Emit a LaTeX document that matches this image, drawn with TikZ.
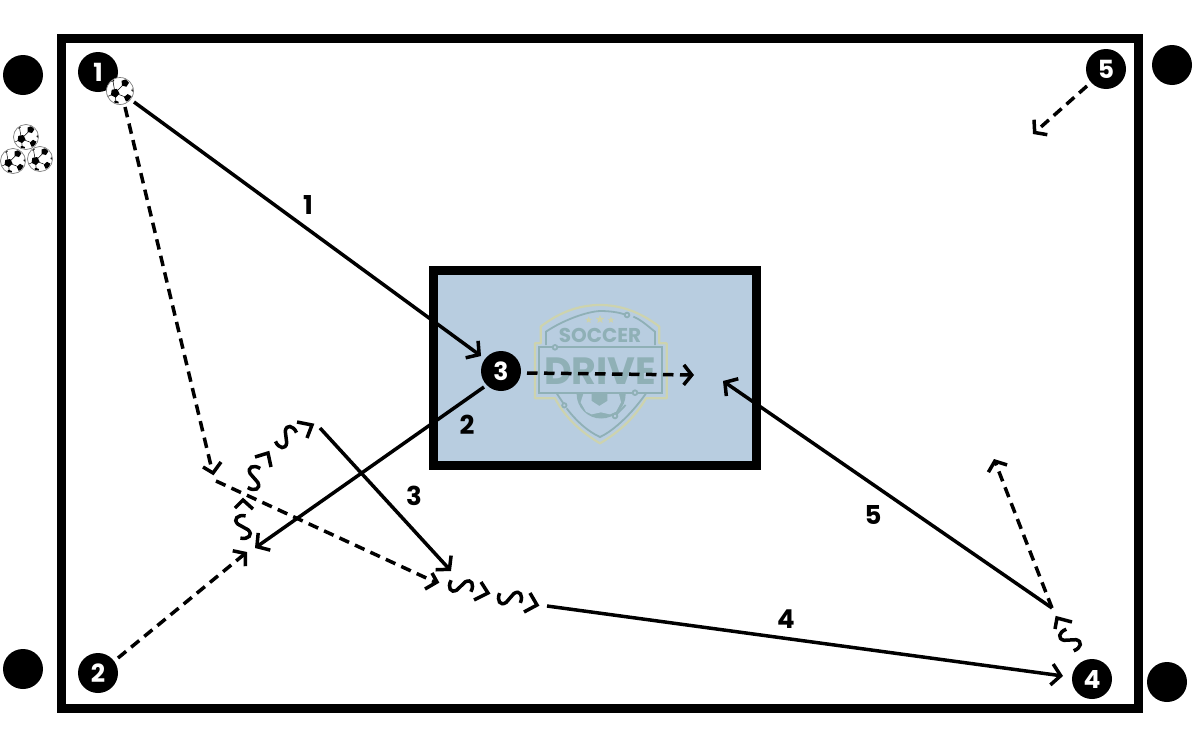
\documentclass[tikz,border=0pt]{standalone}
\usepackage{fontspec}
\setmainfont{Poppins}
\usetikzlibrary{arrows.meta,calc,shapes.geometric}
\definecolor{zone}{HTML}{B8CDE0}
\definecolor{logot}{HTML}{8FB0B6}
\definecolor{logoy}{HTML}{CDD3AE}
\tikzset{
 x=1pt,y=-1pt,
 frame/.style={draw=black,line width=9pt,miter limit=10},
 player/.style={circle,fill=black,text=white,inner sep=0pt,minimum size=40pt,font=\bfseries\fontsize{25}{25}\selectfont},
 cone/.style={circle,fill=black,inner sep=0pt,minimum size=40pt},
 lab/.style={inner sep=0pt,font=\bfseries\fontsize{26}{26}\selectfont},
 pass/.style={line width=3.5pt,-{Straight Barb[length=9pt,width=21pt,line width=3.5pt]}},
 runplain/.style={line width=3.5pt,dash pattern=on 10.5pt off 6.5pt},
 run/.style={runplain,-{Straight Barb[length=8pt,width=20pt,line width=3.5pt]}},
 chev/.style={line width=3.5pt,miter limit=10},
 lt/.style={draw=logot,line width=1.8pt},
 ly/.style={draw=logoy,line width=2.2pt},
 lstar/.style={star,star points=5,star point ratio=2.4,fill=logoy,draw=none,inner sep=0pt,minimum size=7pt},
 squigpic/.pic={
  \draw[line width=3.5pt] (-11,-3) .. controls (-13,5) and (-8,10) .. (-3,5) -- (3,-5) .. controls (8,-10) and (13,-5) .. (11,3);
 },
 ball/.pic={
  \fill[white] (0,0) circle (#1);
  \begin{scope}[scale=#1/13.5]
   \clip (0,0) circle (12.8);
   \foreach \x/\y in {5/-8,8/7,-4/11,-7/-10,-13/6}
    \draw[black,line width=.5pt] (-5,2) -- (\x,\y);
   \foreach \x/\y/\r/\t in {-5/2/4.6/10,5/-8/4/20,8/7/4/-30,-4/12.5/3.2/50,-8/-11.5/2.6/-20,-14/6/3/0,13.5/-1/2.2/0}
    \fill[black,shift={(\x,\y)},rotate=\t] (90:\r) -- (162:\r) -- (234:\r) -- (306:\r) -- (18:\r) -- cycle;
  \end{scope}
  \draw[gray,line width=.7pt] (0,0) circle (#1);
 },
}
\begin{document}
\begin{tikzpicture}
\useasboundingbox (0,0) rectangle (1200,750);
% fields
\draw[frame] (61.5,38) rectangle (1138.5,708);
\draw[frame,fill=zone] (433.5,270.5) rectangle (756.5,465.5);
% logo
\begin{scope}[shift={(520,295)},scale=1/3]
 \draw[ly,line join=round] (45,310) -- (45,145) -- (62,145) -- (62,95) .. controls (120,50) and (180,30) .. (240,30) .. controls (300,30) and (360,50) .. (418,95) -- (418,145) -- (440,145) -- (440,310) -- (378,310) .. controls (340,375) and (290,415) .. (240,445) .. controls (190,415) and (140,375) .. (105,310) -- cycle;
 \fill[logot] (170,297) arc[start angle=180,end angle=0,radius=73.5] -- cycle;
 \fill[zone] (190,297) -- (215,297) -- (215,318) -- (238,333) -- (262,318) -- (262,297) -- (297,297) -- (303,322) -- (288,350) -- (270,358) -- (243,352) -- (215,358) -- (198,350) -- (182,322) -- cycle;
 \draw[lt] (78,150) -- (78,110) .. controls (130,75) and (200,50) .. (240,48) .. controls (270,48) and (295,52) .. (314,58);
 \draw[lt] (321,60) circle (7);
 \draw[lt] (340,65) .. controls (365,75) and (385,95) .. (405,110) -- (405,150);
 \draw[lt] (58,157) rectangle (425,293);
 \draw[lt,fill=zone] (105,157) circle (7);
 \draw[lt,fill=zone] (345,293) circle (7);
 \draw[lt] (110,295) -- (130,325);
 \draw[lt,fill=zone] (133,331) circle (6.5);
 \draw[lt] (140,340) .. controls (170,380) and (205,410) .. (240,426) .. controls (285,405) and (340,350) .. (378,295);
 \draw[lt] (290,358) -- (317,330);
 \draw[lt,fill=zone] (285,363) circle (7);
 \node[lstar] (s1) at (206,75) {};
 \node[lstar,minimum size=9pt] (s2) at (240,73) {};
 \node[lstar] (s3) at (273,75) {};
 \node[inner sep=0pt,text=logot,font=\bfseries\fontsize{20}{20}\selectfont] (soccer) at (240,122) {SOCCER};
 \node[inner sep=0pt,text=logot,font=\bfseries\fontsize{38}{38}\selectfont] (drive) at (240,228) {DRIVE};
\end{scope}
% cones
\node[cone] (c1) at (23,75) {};
\node[cone] (c2) at (1172,65) {};
\node[cone] (c3) at (23,669) {};
\node[cone] (c4) at (1167,682) {};
% players
\node[player] (p1) at (98,72) {1};
\node[player] (p2) at (98,673) {2};
\node[player] (p3) at (501,371) {3};
\node[player] (p4) at (1092,679) {4};
\node[player] (p5) at (1106,69) {5};
% balls
\pic at (120,91) {ball=13.5};
\pic at (26,137) {ball=12.5};
\pic at (13,161) {ball=12.5};
\pic at (40,159) {ball=12.5};
% free ends
\coordinate (a1s) at (134,102); \coordinate (a1e) at (481,356);
\coordinate (a2s) at (484,387); \coordinate (a2e) at (255,548);
\coordinate (a3s) at (320,428); \coordinate (a3e) at (451,571);
\coordinate (a4s) at (547,606); \coordinate (a4e) at (1063,676);
\coordinate (a5s) at (1052,608); \coordinate (a5e) at (723,381);
\coordinate (r1s) at (125,107); \coordinate (r1e) at (212,470);
\coordinate (r2s) at (216,481); \coordinate (r2e) at (435,582);
\coordinate (r3s) at (118,658); \coordinate (r3e) at (247,552);
\coordinate (r4s) at (527,373); \coordinate (r4e) at (694,375);
\coordinate (r5s) at (1052,608); \coordinate (r5e) at (994,459);
\coordinate (r6s) at (1087,86); \coordinate (r6e) at (1033,134);
% passes
\draw[pass] (a1s) -- (a1e);
\draw[pass] (a2s) -- (a2e);
\draw[pass] (a3s) -- (a3e);
\draw[pass] (a4s) -- (a4e);
\draw[pass] (a5s) -- (a5e);
% runs
\draw[runplain] (r1s) -- (r1e);
\draw[runplain] (r2s) -- (r2e);
\draw[run] (r3s) -- (r3e);
\draw[run] (r4s) -- (r4e);
\draw[run] (r5s) -- (r5e);
\draw[run] (r6s) -- (r6e);
\draw[chev] (203,467) -- (213,473) -- (221,462);
\draw[chev] (432,573) -- (437,582) -- (425,589);
% dribbles
\pic[rotate=92] at (243,527) {squigpic};
\pic[rotate=72] at (254,478) {squigpic};
\pic[rotate=38] at (286,437) {squigpic};
\pic[rotate=-15] at (461,586) {squigpic};
\pic[rotate=-10] at (510,598) {squigpic};
\pic[rotate=124] at (1070,640) {squigpic};
\draw[chev] (235,508) -- (243,500) -- (253,509);
\draw[chev] (255,457) -- (268,453) -- (271,467);
\draw[chev] (297,422) -- (312,425) -- (307,438);
\draw[chev] (481,582) -- (488,593) -- (474,600);
\draw[chev] (530,593) -- (537,605) -- (524,612);
\draw[chev] (1072,622) -- (1057,618) -- (1055,629);
% labels
\node[lab] (l1) at (308,205) {1};
\node[lab] (l2) at (467,425) {2};
\node[lab] (l3) at (414,496) {3};
\node[lab] (l4) at (786,619) {4};
\node[lab] (l5) at (873,515) {5};
\end{tikzpicture}
\end{document}
